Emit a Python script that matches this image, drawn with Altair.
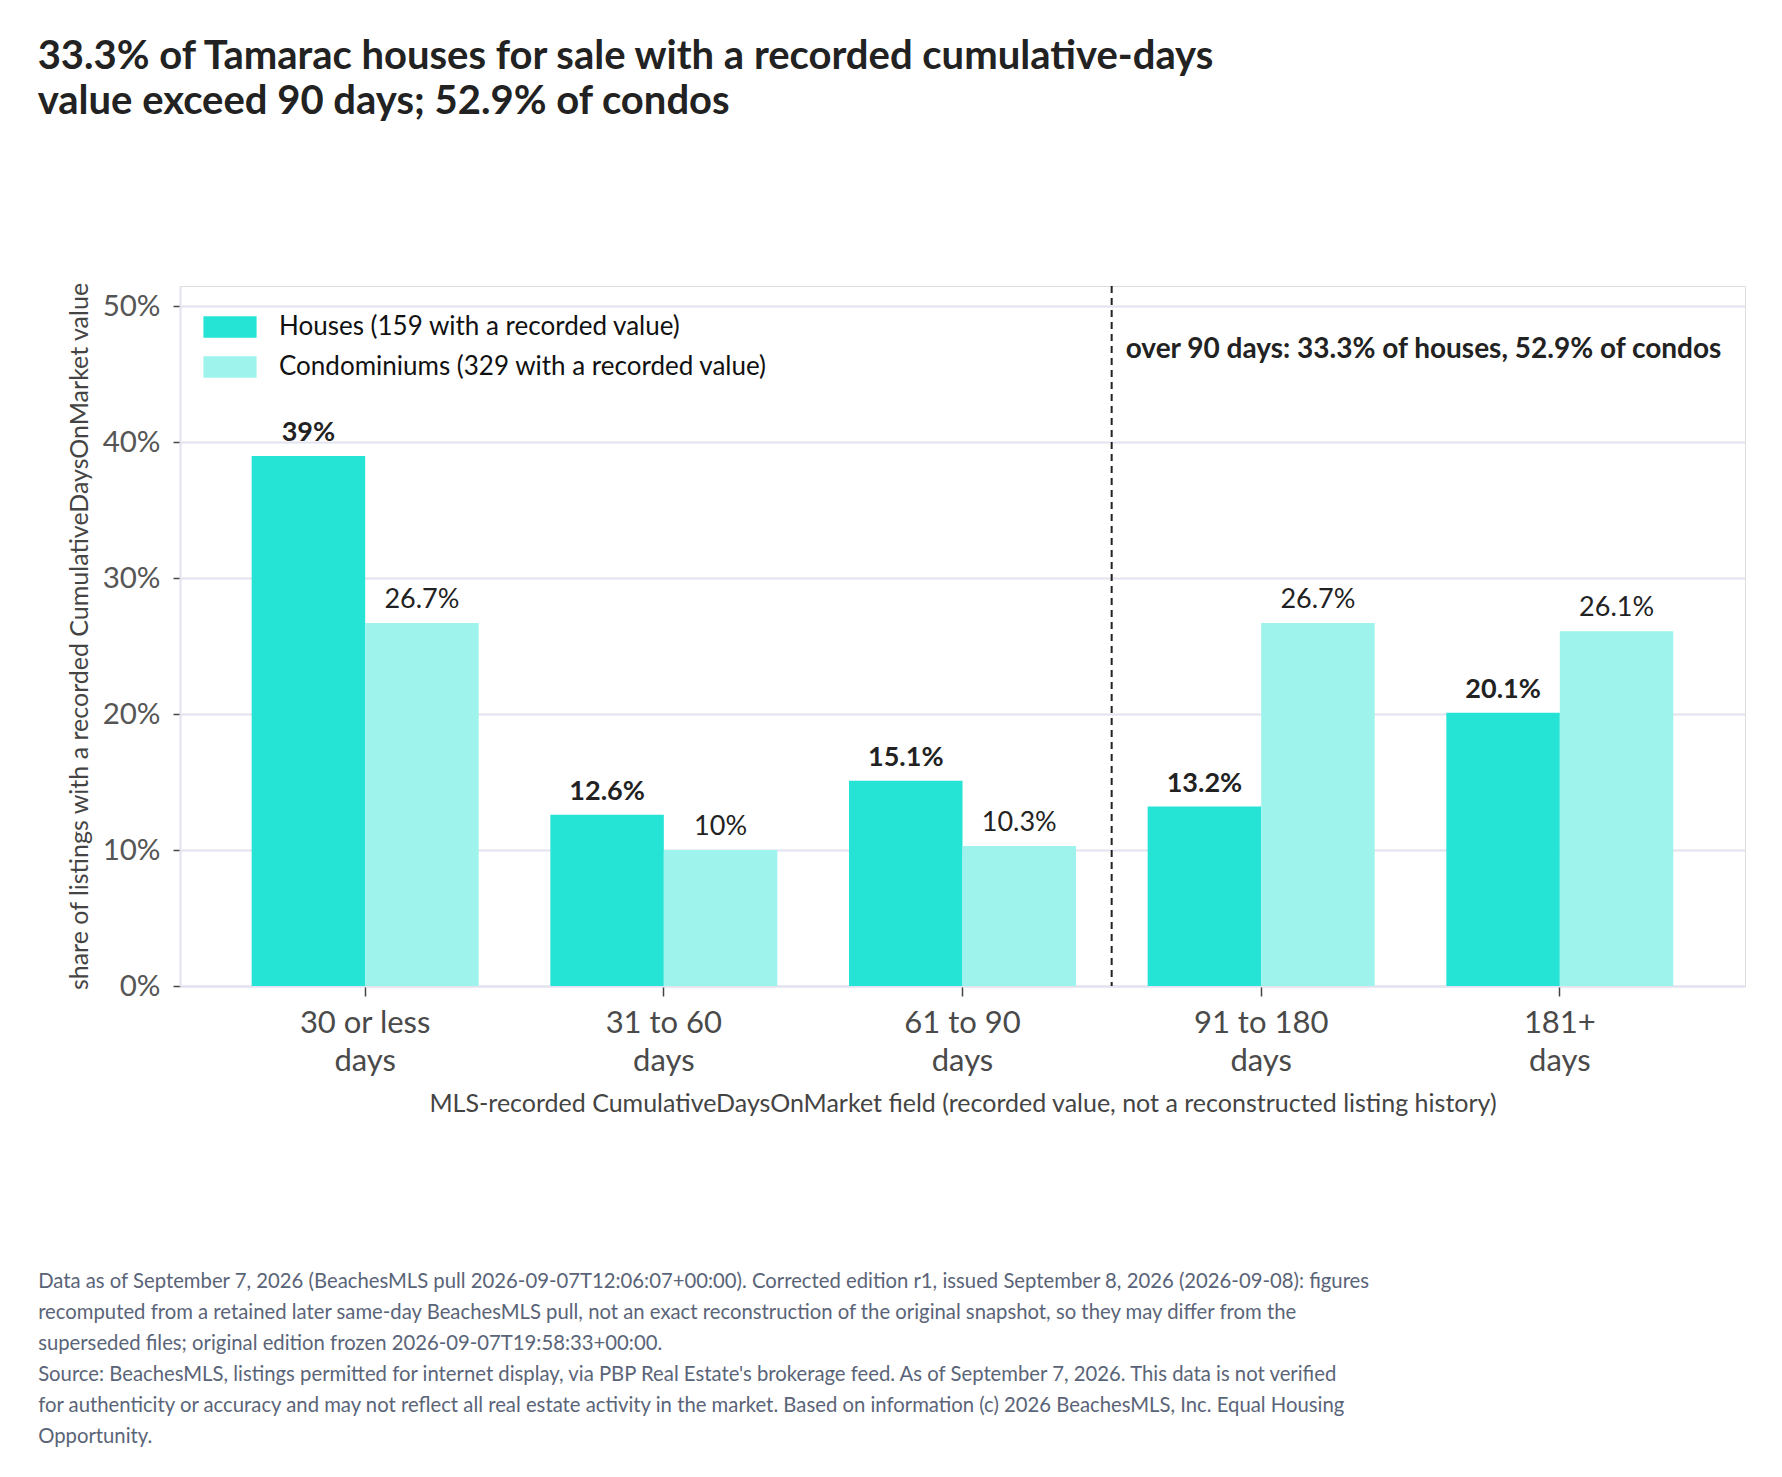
import altair as alt
import pandas as pd

categories = ["30 or less days", "31 to 60 days", "61 to 90 days", "91 to 180 days", "181+ days"]
series = ["Houses (159 with a recorded value)", "Condominiums (329 with a recorded value)"]
houses = [39, 12.6, 15.1, 13.2, 20.1]
condos = [26.7, 10, 10.3, 26.7, 26.1]
colors = ["#25e4d6", "#9ef3ec"]
y_ticks = [0, 10, 20, 30, 40, 50]
split_category = ["91 to 180 days"]
annotation = ["over 90 days: 33.3% of houses, 52.9% of condos"]
annotation_y = [46.8]

headline = [
    "33.3% of Tamarac houses for sale with a recorded cumulative-days",
    "value exceed 90 days; 52.9% of condos",
]
x_title = "MLS-recorded CumulativeDaysOnMarket field (recorded value, not a reconstructed listing history)"
y_title = "share of listings with a recorded CumulativeDaysOnMarket value"
footer = [
    "Data as of September 7, 2026 (BeachesMLS pull 2026-09-07T12:06:07+00:00). Corrected edition r1, issued September 8, 2026 (2026-09-08): figures",
    "recomputed from a retained later same-day BeachesMLS pull, not an exact reconstruction of the original snapshot, so they may differ from the",
    "superseded files; original edition frozen 2026-09-07T19:58:33+00:00.",
    "Source: BeachesMLS, listings permitted for internet display, via PBP Real Estate's brokerage feed. As of September 7, 2026. This data is not verified",
    "for authenticity or accuracy and may not reflect all real estate activity in the market. Based on information (c) 2026 BeachesMLS, Inc. Equal Housing",
    "Opportunity.",
]

rows = []
for c, h, k in zip(categories, houses, condos):
    rows.append({"cat": c, "series": series[0], "value": h, "kind": "house"})
    rows.append({"cat": c, "series": series[1], "value": k, "kind": "condo"})
df = pd.DataFrame(rows)

FONT = "Lato"
GRID = "#e2e2f0"
HALF_GAP = -36

x_enc = alt.X(
    "cat:N",
    sort=categories,
    scale=alt.Scale(paddingInner=0.24, paddingOuter=0.24),
    axis=alt.Axis(
        title=x_title,
        labelAngle=0,
        labelExpr="[slice(datum.label, 0, length(datum.label) - 5), 'days']",
        labelFont=FONT,
        labelFontSize=31,
        labelLineHeight=38,
        labelColor="#4a4a4a",
        labelPadding=12,
        tickColor="#444",
        tickSize=10,
        tickWidth=1.5,
        domainColor=GRID,
        domainWidth=2,
        titleFont=FONT,
        titleFontSize=25,
        titleFontWeight="normal",
        titleColor="#444",
        titlePadding=15,
        grid=False,
    ),
)
y_enc = alt.Y(
    "value:Q",
    scale=alt.Scale(domain=[0, 51.5], nice=False),
    axis=alt.Axis(
        values=y_ticks,
        labelExpr="datum.value + '%'",
        title=y_title,
        labelFont=FONT,
        labelFontSize=29.5,
        labelColor="#555",
        labelPadding=13,
        tickColor="#444",
        tickSize=7,
        tickWidth=1.5,
        domainColor=GRID,
        domainWidth=2,
        gridColor=GRID,
        gridWidth=2,
        titleFont=FONT,
        titleFontSize=25,
        titleFontWeight="normal",
        titleColor="#444",
        titlePadding=10,
    ),
)
xoff = alt.XOffset("series:N", sort=series, scale=alt.Scale(domain=series, paddingInner=0, paddingOuter=0))
color = alt.Color(
    "series:N",
    sort=series,
    scale=alt.Scale(domain=series, range=colors),
    legend=alt.Legend(
        title=None,
        orient="none",
        legendX=31,
        legendY=22,
        direction="vertical",
        symbolType="M-1.4,-0.56H1.4V0.56H-1.4Z",
        symbolSize=1444,
        symbolStrokeWidth=0,
        labelFont=FONT,
        labelFontSize=26,
        labelColor="#111",
        labelOffset=30,
        labelLimit=0,
        rowPadding=8,
        padding=0,
    ),
)

base = alt.Chart(df)
bars = base.mark_bar().encode(x=x_enc, y=y_enc, xOffset=xoff, color=color)

x_plain = alt.X("cat:N", sort=categories)
lab_h = (
    base.transform_filter(alt.datum.kind == "house")
    .transform_calculate(lbl="datum.value + '%'")
    .mark_text(font=FONT, fontSize=27, fontWeight="bold", color="#222", baseline="alphabetic", dy=-15)
    .encode(x=x_plain, y="value:Q", xOffset=xoff, text="lbl:N")
)
lab_c = (
    base.transform_filter(alt.datum.kind == "condo")
    .transform_calculate(lbl="datum.value + '%'")
    .mark_text(font=FONT, fontSize=27, fontWeight="normal", color="#222", baseline="alphabetic", dy=-15)
    .encode(x=x_plain, y="value:Q", xOffset=xoff, text="lbl:N")
)

rule_df = pd.DataFrame({"cat": split_category})
rule = alt.Chart(rule_df).mark_rule(
    strokeDash=[7, 5], strokeWidth=2, color="#222", xOffset=HALF_GAP
).encode(x=alt.X("cat:N", sort=categories, bandPosition=0))

ann_df = pd.DataFrame({"cat": split_category, "text": annotation, "y": annotation_y})
ann = alt.Chart(ann_df).mark_text(
    font=FONT, fontSize=28, fontWeight="bold", color="#222", align="left", baseline="middle",
    xOffset=HALF_GAP, dx=14,
).encode(
    x=alt.X("cat:N", sort=categories, bandPosition=0),
    y=alt.Y("y:Q"),
    text="text:N",
)

main = alt.layer(bars, lab_h, lab_c, rule, ann).properties(
    width=1565,
    height=700,
    title=alt.TitleParams(
        text=footer,
        orient="bottom",
        anchor="start",
        font=FONT,
        fontSize=20.3,
        fontWeight="normal",
        lineHeight=31,
        color="#5a6478",
        dx=-29,
        offset=156,
    ),
)

chart = (
    alt.vconcat(main)
    .properties(
        title=alt.TitleParams(
            text=headline,
            anchor="start",
            font=FONT,
            fontSize=40,
            fontWeight="bold",
            lineHeight=45,
            color="#222",
            offset=159,
        ),
        padding={"left": 29, "top": 29, "right": 21, "bottom": 20},
    )
    .configure_view(stroke=None)
    .configure(background="white")
)

chart.save("out.html", embed_options={"renderer": "svg", "actions": False})
